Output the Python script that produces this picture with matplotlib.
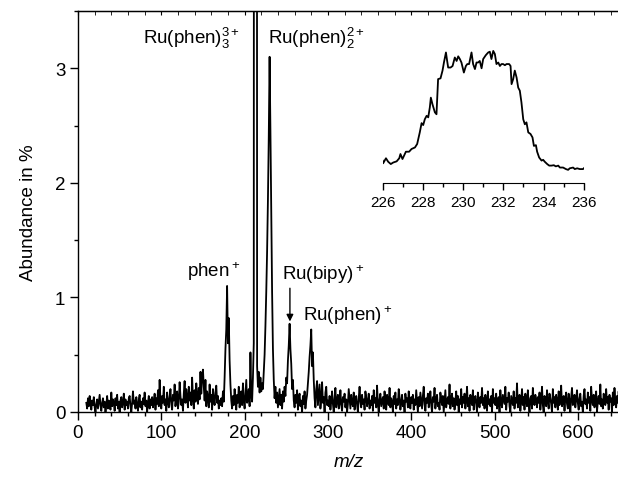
import numpy as np
import matplotlib
matplotlib.use("Agg")
import matplotlib.pyplot as plt
from matplotlib.ticker import MultipleLocator

plt.rcParams['font.family'] = ['Liberation Sans', 'DejaVu Sans']
plt.rcParams['mathtext.fontset'] = 'custom'
plt.rcParams['mathtext.rm'] = 'Liberation Sans'
plt.rcParams['mathtext.it'] = 'Liberation Sans:italic'

# abundance values in 1/100 %, one per m/z unit
noise_low_start = 10
noise_low = [8, 3, 12, 5, 14, 9, 2, 10, 6, 13, 4, 0, 7, 11, 3, 9, 15, 6, 1, 8,
             12, 4, 9, 0, 6, 14, 3, 10, 7, 2, 17, 5, 11, 8, 1, 12, 6, 15, 3, 9,
             0, 10, 13, 4, 8, 16, 2, 11, 6, 9, 3, 12, 14, 5, 0, 8, 18, 7, 10, 3,
             13, 6, 1, 11, 15, 4, 9, 2, 12, 7, 17, 5, 10, 0, 8, 14, 3, 11, 6, 13,
             4, 9, 16, 2, 12, 7, 19, 5, 28, 10, 3, 14, 8, 22, 6, 11, 1, 17, 9, 4,
             13, 20, 7, 2, 15, 10, 24, 5, 12, 18, 3, 9, 26, 14, 6, 11, 1, 16, 27, 8,
             20, 13, 4, 22, 10, 17, 6, 30, 12, 3, 19, 9, 25, 14, 7, 21, 11, 35, 16, 32,
             37, 22, 10, 28, 5, 18, 12, 4, 24, 9, 15, 2, 20, 11, 6, 17, 23, 8, 14, 3,
             10, 6]

peaks_start = 172
peaks = [12, 5, 18, 9, 30, 55, 72, 110, 60, 82, 45, 24, 10, 3, 14, 6, 20, 9, 2, 15,
         8, 22, 4, 12, 18, 6, 25, 10, 3, 16, 28, 8, 13, 20, 5, 52, 15, 9, 30, 60,
         3000, 3000, 3000, 40, 22, 35, 17, 30, 18, 25, 20, 35, 50, 75, 105, 140, 185, 240, 310, 245,
         170, 105, 55, 28, 12, 22, 8, 17, 4, 12, 20, 6, 15, 3, 18, 9, 22, 14, 30, 25,
         45, 58, 77, 55, 42, 20, 28, 10, 4, 15, 8, 19, 2, 12, 16, 5, 10, 0, 14, 7,
         18, 3, 10, 15, 25, 35, 48, 58, 72, 40, 52, 28, 12, 4, 20, 27, 6, 15, 24, 3,
         11, 26, 8, 13, 0, 17, 22, 6, 10]

noise_high_start = 301
noise_high = [5, 14, 2, 9, 18, 7, 0, 12, 21, 4, 10, 15, 3, 8, 19, 6, 1, 13, 9, 16, 4, 11, 0, 7, 20,
              12, 3, 15, 8, 5, 17, 2, 10, 14, 6, 0, 12, 22, 9, 4, 15, 7, 11, 2, 18, 13, 5, 9, 16, 3,
              10, 6, 14, 1, 19, 8, 12, 4, 23, 7, 0, 11, 16, 5, 9, 13, 3, 18, 8, 2, 15, 10, 6, 21, 4,
              12, 9, 0, 14, 7, 17, 3, 11, 6, 20, 13, 2, 8, 15, 5, 10, 0, 16, 9, 12, 4, 18, 7, 3, 13,
              8, 15, 2, 11, 6, 19, 9, 0, 13, 5, 17, 10, 3, 14, 22, 7, 1, 12, 8, 16, 4, 10, 18, 6, 0,
              13, 9, 21, 3, 11, 15, 5, 8, 2, 17, 12, 6, 14, 0, 10, 19, 4, 9, 13, 7, 24, 3, 11, 16, 5,
              12, 2, 9, 18, 6, 14, 0, 11, 7, 20, 4, 13, 8, 16, 3, 10, 22, 5, 12, 1, 15, 9, 6, 19, 2,
              11, 14, 7, 0, 17, 10, 4, 13, 8, 21, 6, 12, 3, 15, 9, 1, 18, 7, 11, 5, 14, 0, 20, 8, 12,
              6, 16, 3, 10, 13, 0, 19, 8, 4, 15, 11, 7, 22, 2, 12, 9, 17, 5, 0, 14, 10, 6, 18, 3, 12,
              8, 25, 4, 11, 15, 1, 9, 20, 6, 13, 2, 16, 10, 5, 19, 7, 0, 12, 14, 3, 21, 9, 6, 15, 11,
              4, 13, 8, 17, 2, 10, 22, 6, 0, 14, 11, 5, 19, 9, 3, 16, 12, 7, 0, 20, 8, 13, 4, 15, 10,
              2, 18, 6, 11, 23, 5, 9, 14, 1, 12, 17, 7, 3, 16, 10, 0, 13, 21, 6, 9, 15, 4, 11, 19, 8,
              2, 12, 16, 5, 9, 0, 14, 20, 7, 11, 3, 17, 8, 13, 1, 22, 10, 6, 15, 4, 12, 18, 0, 9, 14,
              7, 24, 5, 11, 3, 16, 10, 6, 20, 8, 13, 2, 15, 9, 12, 0, 17, 6, 21, 10, 4, 14, 8, 18, 11]

# inset: Ru(phen)2 2+ isotope envelope
inset_mz = [226.0, 226.03, 226.17, 226.28, 226.41, 226.53, 226.70, 226.83, 226.89, 226.99,
            227.08, 227.16, 227.32, 227.44, 227.61, 227.72, 227.85, 227.94, 228.02, 228.10,
            228.19, 228.27, 228.35, 228.40, 228.48, 228.60, 228.68, 228.76, 228.88, 228.98,
            229.05, 229.15, 229.21, 229.26, 229.38, 229.48, 229.59, 229.68, 229.76, 229.84,
            229.92, 230.04, 230.14, 230.21, 230.30, 230.42, 230.50, 230.59, 230.67, 230.75,
            230.83, 230.92, 231.00, 231.13, 231.25, 231.33, 231.41, 231.50, 231.58, 231.66,
            231.75, 231.83, 231.91, 231.99, 232.08, 232.16, 232.29, 232.36, 232.41, 232.49,
            232.57, 232.66, 232.74, 232.82, 232.90, 232.99, 233.07, 233.15, 233.24, 233.35,
            233.45, 233.52, 233.62, 233.68, 233.78, 233.90, 233.98, 234.06, 234.18, 234.28,
            234.39, 234.51, 234.61, 234.73, 234.81, 234.97, 235.11, 235.22, 235.30, 235.47,
            235.55, 235.67, 235.80, 235.96, 236.0]
inset_ab = [0.30, 0.23, 0.36, 0.27, 0.21, 0.25, 0.28, 0.36, 0.47, 0.34,
            0.44, 0.53, 0.53, 0.60, 0.64, 0.73, 1.03, 1.27, 1.22, 1.37,
            1.46, 1.42, 1.68, 1.93, 1.76, 1.55, 1.50, 2.41, 2.43, 2.63,
            2.84, 3.10, 2.88, 2.71, 2.71, 2.75, 2.97, 2.88, 3.00, 2.93,
            2.84, 2.58, 2.75, 2.80, 2.80, 3.10, 2.80, 2.67, 2.84, 2.84,
            2.88, 2.69, 2.93, 3.03, 3.10, 3.12, 2.93, 3.14, 3.06, 2.80,
            2.84, 2.75, 2.80, 2.80, 2.77, 2.80, 2.80, 2.75, 2.28, 2.41,
            2.63, 2.45, 2.19, 2.11, 1.81, 1.37, 1.24, 1.29, 1.03, 0.99,
            0.90, 0.68, 0.70, 0.53, 0.38, 0.30, 0.32, 0.27, 0.21, 0.17,
            0.17, 0.18, 0.15, 0.17, 0.12, 0.12, 0.08, 0.06, 0.10, 0.12,
            0.08, 0.10, 0.08, 0.08, 0.10]

mz = np.concatenate([noise_low_start + np.arange(len(noise_low)),
                     peaks_start + np.arange(len(peaks)),
                     noise_high_start + np.arange(len(noise_high))])
ab = np.concatenate([noise_low, peaks, noise_high]) / 100.0

fig = plt.figure(figsize=(6.18, 4.81), dpi=100)
ax = fig.add_axes([0.1262, 0.1414, 0.8762, 0.8337])
ax.plot(mz, ab, color='black', lw=1.3)
ax.set_xlim(0, 650)
ax.set_ylim(0, 3.5)
ax.spines['right'].set_visible(False)
ax.xaxis.set_major_locator(MultipleLocator(100))
ax.xaxis.set_minor_locator(MultipleLocator(20))
ax.yaxis.set_major_locator(MultipleLocator(1))
ax.yaxis.set_minor_locator(MultipleLocator(0.5))
ax.tick_params(which='major', direction='out', length=5.5, width=1, labelsize=13.5)
ax.tick_params(which='minor', direction='out', length=3, width=1)
for s in ax.spines.values():
    s.set_linewidth(1)

top = ax.secondary_xaxis('top')
top.xaxis.set_major_locator(MultipleLocator(100))
top.xaxis.set_minor_locator(MultipleLocator(20))
top.tick_params(which='both', direction='in', length=3, labeltop=False)

ax.set_xlabel('m/z', fontsize=13.5, style='italic', labelpad=8)
ax.set_ylabel('Abundance in %', fontsize=13.5, labelpad=13)

ax.text(78, 3.22, r'Ru(phen)$_3^{3+}$', fontsize=13.5, va='baseline')
ax.text(228, 3.22, r'Ru(phen)$_2^{2+}$', fontsize=13.5, va='baseline')
ax.text(131, 1.19, r'phen$^+$', fontsize=13.5, va='baseline')
ax.text(245, 1.165, r'Ru(bipy)$^+$', fontsize=13.5, va='baseline')
ax.text(270, 0.80, r'Ru(phen)$^+$', fontsize=13.5, va='baseline')
ax.annotate('', xy=(254.4, 0.79), xytext=(254.4, 1.08),
            arrowprops=dict(arrowstyle='-|>', color='black', lw=1,
                            mutation_scale=10, shrinkA=0, shrinkB=0))

ins = fig.add_axes([0.619, 0.6175, 0.3257, 0.289])
ins.plot(inset_mz, inset_ab, color='black', lw=1.3)
ins.set_xlim(226, 236)
ins.set_ylim(-0.28, 3.32)
for side in ['top', 'right', 'left']:
    ins.spines[side].set_visible(False)
ins.set_yticks([])
ins.xaxis.set_major_locator(MultipleLocator(2))
ins.xaxis.set_minor_locator(MultipleLocator(1))
ins.tick_params(which='major', direction='out', length=5, width=1, labelsize=11)
ins.tick_params(which='minor', direction='out', length=3, width=1)
ins.patch.set_alpha(0)

fig.savefig('out.png', dpi=100)
